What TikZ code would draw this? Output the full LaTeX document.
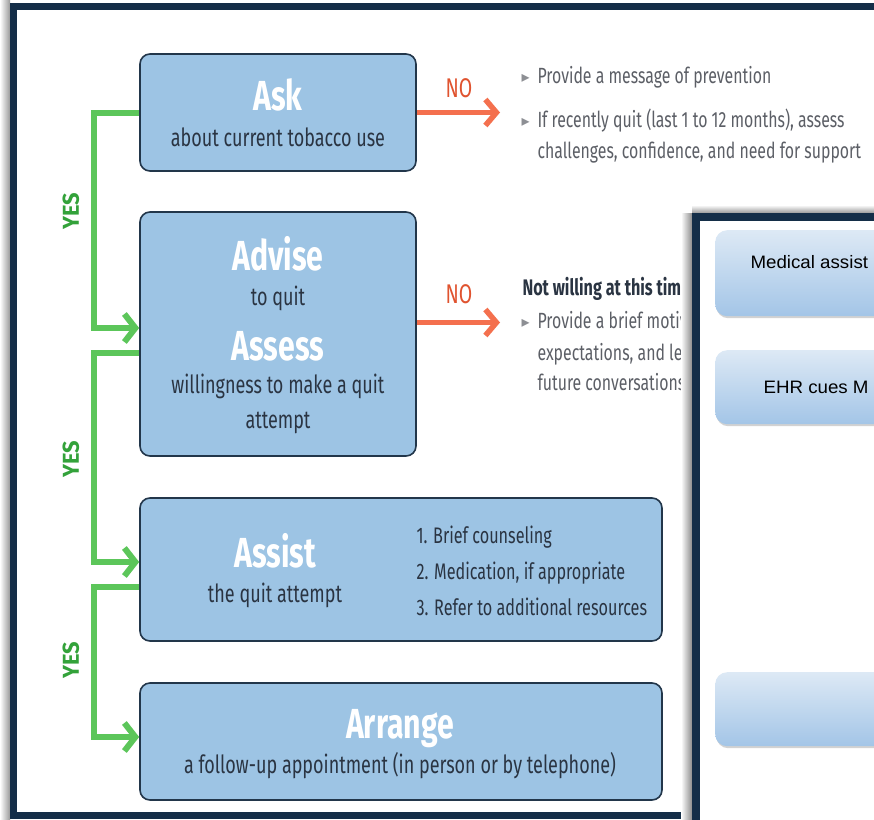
\documentclass[tikz,border=0pt]{standalone}
\usepackage{fontspec}
\setmainfont{Fira Sans}[FakeStretch=0.72]
\newfontfamily\yesfont{Fira Sans}[FakeStretch=0.95]
\newfontfamily\panelfont{Liberation Sans}[FakeStretch=1.04]
\newfontfamily\symfont{DejaVu Sans}
\usetikzlibrary{arrows.meta, positioning, calc, shadows}

\definecolor{framenavy}{HTML}{142E48}
\definecolor{boxblue}{HTML}{9DC4E4}
\definecolor{boxedge}{HTML}{22364A}
\definecolor{yesgreen}{HTML}{5CC65A}
\definecolor{yestext}{HTML}{33A23A}
\definecolor{noorange}{HTML}{F4704E}
\definecolor{notext}{HTML}{E0532F}
\definecolor{subtext}{HTML}{2A3442}
\definecolor{graytext}{HTML}{5C5F66}
\definecolor{paneltop}{HTML}{DDE9F5}
\definecolor{panelbot}{HTML}{A3C5E7}

\begin{document}
\begin{tikzpicture}[
    x=1pt, y=-1pt,
    stagebox/.style={rectangle, draw=boxedge, line width=1.6pt, fill=boxblue, rounded corners=10pt, inner sep=0pt},
    head/.style={anchor=base, text=white, font=\fontsize{42}{44}\selectfont\bfseries},
    sub/.style={anchor=base, text=subtext, font=\fontsize{25}{27}\selectfont},
    item/.style={anchor=base west, text=subtext, font=\fontsize{22.5}{24}\selectfont},
    note/.style={anchor=base west, text=graytext, font=\fontsize{22}{24}\selectfont},
    bul/.style={anchor=base west, text=graytext!70, font=\symfont\fontsize{16}{16}\selectfont},
    yesline/.style={yesgreen, line width=6pt, -{Straight Barb[length=11pt,width=28pt]}},
    yeslab/.style={rotate=90, text=yestext, font=\yesfont\bfseries\fontsize{23}{23}\selectfont},
    noline/.style={noorange, line width=5.5pt, -{Straight Barb[length=11pt,width=26pt]}},
    nolab/.style={anchor=base, text=notext, font=\fontsize{27}{27}\selectfont},
    panelbox/.style={rectangle, rounded corners=12pt, top color=paneltop, bottom color=panelbot, anchor=north west, minimum width=200pt, drop shadow={opacity=0.35, shadow xshift=1pt, shadow yshift=-2pt}},
    paneltext/.style={anchor=base west, text=black, font=\panelfont\fontsize{18}{18}\selectfont}
]
    \useasboundingbox (0,0) rectangle (874,819);
    \clip (0,0) rectangle (874,819);
    \fill[white] (0,0) rectangle (874,819);

    % Outer frame with shadow
    \fill[left color=white, right color=black!40] (0,0) rectangle (10,819);
    \draw[framenavy, line width=7.5pt] (900,6.5) -- (13.5,6.5) -- (13.5,815.5) -- (700,815.5);

    % Stages
    \node (ask) [stagebox, minimum width=276pt, minimum height=117pt] at (278,112.5) {};
    \node (advise) [stagebox, minimum width=276pt, minimum height=244pt] at (278,334) {};
    \node (assist) [stagebox, minimum width=522pt, minimum height=143pt] at (401,569.5) {};
    \node (arrange) [stagebox, minimum width=522pt, minimum height=117pt] at (401,741.5) {};

    \node (askH) [head] at (278,110) {Ask};
    \node (askS) [sub] at (278,146) {about current tobacco use};
    \node (adviseH) [head] at (278,270) {Advise};
    \node (adviseS) [sub] at (278,305) {to quit};
    \node (assessH) [head] at (278,360) {Assess};
    \node (assessS) [sub] at (278,393) {willingness to make a quit};
    \node (assessT) [sub] at (278,428) {attempt};
    \node (assistH) [head] at (275,567) {Assist};
    \node (assistS) [sub] at (275,602) {the quit attempt};
    \node (item1) [item] at (413,543) {1. Brief counseling};
    \node (item2) [item] at (413,579) {2. Medication, if appropriate};
    \node (item3) [item] at (413,615) {3. Refer to additional resources};
    \node (arrangeH) [head] at (400,738) {Arrange};
    \node (arrangeS) [sub] at (400,773) {a follow-up appointment (in person or by telephone)};

    % YES path
    \draw [yesline] (ask.west) -- ++(-45,0) |- ([yshift=6pt]advise.west);
    \draw [yesline] ([yshift=-19pt]advise.west) -- ++(-45,0) |- ([yshift=7.5pt]assist.west);
    \draw [yesline] ([yshift=-17.5pt]assist.west) -- ++(-45,0) |- ([yshift=4.5pt]arrange.west);
    \node (yes1) [yeslab] at (71,211) {YES};
    \node (yes2) [yeslab] at (71,459) {YES};
    \node (yes3) [yeslab] at (71,660) {YES};

    % NO path
    \coordinate (noAsk) at (500,112.5);
    \coordinate (noAdv) at (500,322.5);
    \draw [noline] (ask.east) -- (noAsk);
    \draw [noline] ([yshift=11.5pt]advise.east) -- (noAdv);
    \node (no1) [nolab] at (459,97) {NO};
    \node (no2) [nolab] at (459,303) {NO};

    \node (bul1) [bul] at (518,82) {▸};
    \node (note1) [note] at (534,83) {Provide a message of prevention};
    \node (bul2) [bul] at (518,126) {▸};
    \node (note2) [note] at (534,127) {If recently quit (last 1 to 12 months), assess};
    \node (note3) [note] at (534,158) {challenges, confidence, and need for support};
    \node (notwill) [anchor=base west, text=subtext, font=\fontsize{22.5}{25}\selectfont\bfseries] at (519,295) {Not willing at this time};
    \node (bul3) [bul] at (518,327) {▸};
    \node (note4) [note] at (534,328) {Provide a brief motiva};
    \node (note5) [note] at (534,360) {expectations, and lea};
    \node (note6) [note] at (534,390) {future conversations};

    % Second panel on top
    \fill[left color=white, right color=black!45] (681,213) rectangle (692,819);
    \fill[top color=white, bottom color=black!40] (692,205) rectangle (874,213);
    \fill[white] (696,217) rectangle (880,830);
    \draw[framenavy, line width=8pt] (880,217) -- (696,217) -- (696,830);

    \node (medbox) [panelbox, minimum height=86pt] at (715,230) {};
    \node (ehrbox) [panelbox, minimum height=74pt] at (715,350) {};
    \node (lastbox) [panelbox, minimum height=74pt] at (715,672) {};
    \node (medtext) [paneltext] at (747,268) {Medical assist};
    \node (ehrtext) [paneltext] at (760,393) {EHR cues M};
\end{tikzpicture}
\end{document}
